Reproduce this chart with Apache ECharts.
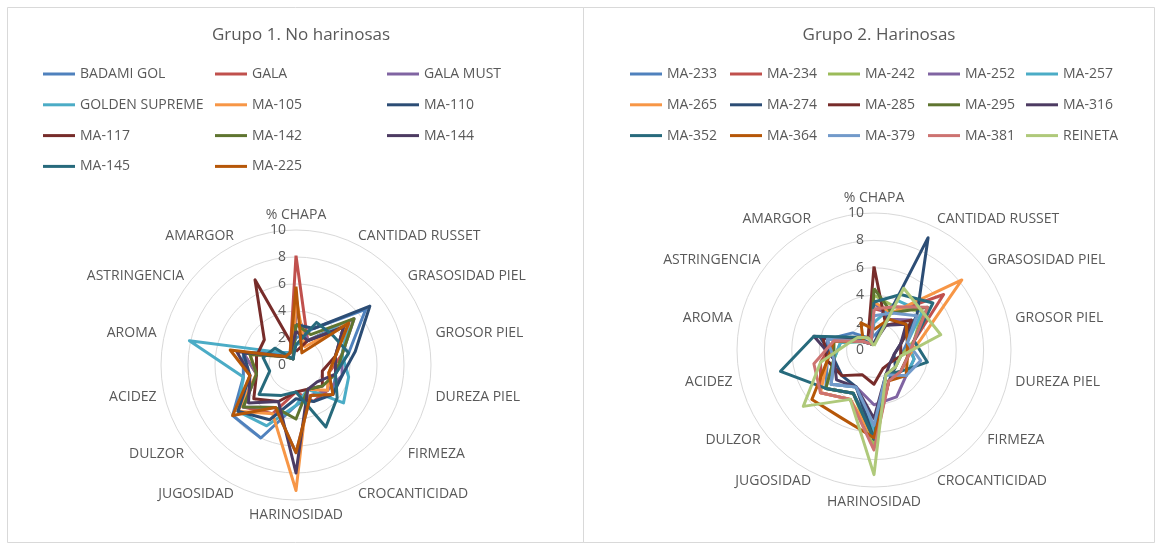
<!DOCTYPE html>
<html><head><meta charset="utf-8">
<script src="https://cdn.jsdelivr.net/npm/echarts@6/dist/echarts.min.js"></script>
<style>html,body{margin:0;padding:0;background:#fff}#c{width:1159px;height:546px}</style>
</head><body><div id="c"></div>
<script>
// ---- categories (clockwise from top) ----
const indicators = ['% CHAPA','CANTIDAD RUSSET','GRASOSIDAD PIEL','GROSOR PIEL','DUREZA PIEL','FIRMEZA','CROCANTICIDAD','HARINOSIDAD','JUGOSIDAD','DULZOR','ACIDEZ','AROMA','ASTRINGENCIA','AMARGOR'];
const axisMin = 0, axisMax = 10, axisSplits = 5;

// ---- Grupo 1. No harinosas ----
const g1Names = ['BADAMI GOL','GALA','GALA MUST','GOLDEN SUPREME','MA-105','MA-110','MA-117','MA-142','MA-144','MA-145','MA-225'];
const g1_BADAMI_GOL     = [2.0, 3.0, 6.6, 4.0, 3.0, 3.5, 2.5, 3.0, 6.0, 6.0, 4.0, 4.0, 1.5, 1.0];
const g1_GALA           = [8.1, 2.0, 5.0, 3.5, 2.5, 3.0, 3.0, 2.0, 4.0, 5.0, 3.0, 4.0, 1.0, 1.0];
const g1_GALA_MUST      = [4.0, 2.0, 5.5, 3.5, 3.5, 3.0, 2.5, 6.5, 3.5, 5.0, 3.0, 4.0, 1.0, 0.5];
const g1_GOLDEN_SUPREME = [1.5, 2.0, 5.0, 3.5, 4.0, 4.5, 2.0, 3.0, 5.0, 5.5, 4.0, 8.1, 1.5, 1.0];
const g1_MA105          = [5.0, 1.5, 5.0, 3.0, 2.5, 3.0, 2.0, 9.3, 4.0, 5.5, 3.0, 3.5, 1.0, 0.5];
const g1_MA110          = [3.0, 3.0, 7.0, 4.5, 3.5, 3.5, 3.0, 2.5, 4.5, 5.5, 3.5, 4.0, 1.0, 0.5];
const g1_MA117          = [1.0, 2.0, 4.5, 3.0, 2.0, 2.5, 2.0, 2.0, 3.0, 4.0, 3.0, 3.0, 3.0, 7.0];
const g1_MA142          = [3.0, 2.5, 5.5, 3.5, 3.0, 2.5, 2.0, 4.0, 3.5, 5.0, 3.0, 3.5, 1.0, 0.5];
const g1_MA144          = [2.5, 2.0, 4.5, 3.0, 3.0, 2.0, 2.0, 8.0, 3.0, 4.5, 3.5, 4.5, 1.0, 1.0];
const g1_MA145          = [1.5, 3.5, 3.5, 4.0, 3.0, 3.9, 5.1, 2.0, 2.5, 3.5, 2.0, 2.5, 2.0, 0.5];
const g1_MA225          = [5.8, 1.0, 5.0, 3.0, 2.5, 3.5, 2.5, 6.5, 3.5, 6.0, 3.5, 5.0, 1.0, 1.0];
const g1Values = [g1_BADAMI_GOL, g1_GALA, g1_GALA_MUST, g1_GOLDEN_SUPREME, g1_MA105, g1_MA110, g1_MA117, g1_MA142, g1_MA144, g1_MA145, g1_MA225];
const g1Colors = ['#4F81BD','#C0504D','#8064A2','#4BACC6','#F79646','#2C4D75','#772C2A','#5F7530','#4D3B62','#276A7C','#B65708'];

// ---- Grupo 2. Harinosas ----
const g2Names = ['MA-233','MA-234','MA-242','MA-252','MA-257','MA-265','MA-274','MA-285','MA-295','MA-316','MA-352','MA-364','MA-379','MA-381','REINETA'];
const g2_MA233   = [1.0, 2.5, 3.0, 2.5, 2.0, 2.0, 2.0, 6.0, 3.5, 4.5, 3.5, 3.5, 2.0, 1.0];
const g2_MA234   = [3.0, 3.0, 6.5, 3.0, 2.5, 2.5, 2.5, 7.0, 4.0, 5.0, 4.0, 3.0, 1.0, 0.5];
const g2_MA242   = [4.0, 3.5, 4.5, 3.0, 2.0, 2.0, 2.0, 7.0, 3.5, 4.5, 3.0, 2.5, 1.0, 0.5];
const g2_MA252   = [3.5, 2.5, 3.5, 2.5, 3.0, 3.0, 3.8, 4.0, 3.0, 4.0, 3.0, 3.5, 1.0, 0.5];
const g2_MA257   = [2.0, 4.0, 4.5, 2.5, 3.0, 3.0, 2.0, 6.0, 3.0, 4.0, 3.0, 2.5, 1.0, 0.5];
const g2_MA265   = [3.5, 3.0, 8.2, 3.5, 2.5, 2.5, 2.5, 6.5, 4.0, 5.0, 3.5, 3.0, 1.0, 0.5];
const g2_MA274   = [0.5, 9.1, 4.0, 2.0, 1.5, 2.0, 2.5, 6.5, 3.0, 3.0, 3.0, 4.0, 1.0, 0.5];
const g2_MA285   = [6.1, 2.0, 3.5, 2.0, 2.0, 1.5, 1.5, 2.5, 2.0, 3.0, 3.5, 3.8, 1.5, 1.0];
const g2_MA295   = [4.5, 3.0, 5.0, 3.0, 2.5, 2.5, 2.0, 6.5, 3.5, 4.5, 3.0, 3.0, 1.0, 0.5];
const g2_MA316   = [0.5, 2.0, 3.0, 2.0, 1.5, 1.5, 2.0, 5.0, 3.0, 3.5, 3.0, 4.5, 1.0, 0.5];
const g2_MA352   = [3.5, 4.5, 5.5, 3.0, 4.0, 2.5, 2.0, 6.5, 3.5, 4.5, 7.0, 4.5, 1.5, 0.5];
const g2_MA364   = [1.5, 2.5, 3.0, 2.5, 2.5, 3.0, 2.5, 6.4, 5.5, 5.8, 3.5, 3.0, 1.0, 2.2];
const g2_MA379   = [2.5, 3.0, 4.0, 2.5, 3.5, 3.0, 2.0, 5.5, 3.0, 4.0, 3.0, 3.5, 1.0, 0.5];
const g2_MA381   = [3.0, 3.5, 5.0, 3.0, 2.5, 2.5, 2.5, 7.3, 4.0, 5.0, 4.5, 3.0, 1.0, 0.5];
const g2_REINETA = [0.3, 5.0, 4.5, 5.0, 2.0, 2.0, 2.0, 9.1, 4.0, 6.6, 4.0, 2.0, 1.5, 1.0];
const g2Values = [g2_MA233, g2_MA234, g2_MA242, g2_MA252, g2_MA257, g2_MA265, g2_MA274, g2_MA285, g2_MA295, g2_MA316, g2_MA352, g2_MA364, g2_MA379, g2_MA381, g2_REINETA];
const g2Colors = ['#4F81BD','#C0504D','#9BBB59','#8064A2','#4BACC6','#F79646','#2C4D75','#772C2A','#5F7530','#4D3B62','#276A7C','#B65708','#729ACA','#CD7371','#AFC97A'];

// ---- build ----
const FONT = '"Open Sans", sans-serif';
const TXT = '#595959';
// ECharts radar runs counter-clockwise; reorder so categories run clockwise
const order = [0].concat(indicators.map((_, i) => i).slice(1).reverse());
function makeIndicators() {
  return order.map((k, j) => {
    const o = { name: indicators[k], min: axisMin, max: axisMax };
    if (j === 0) o.axisLabel = { show: true };
    return o;
  });
}
function makeRadar(center, radius) {
  return {
    center: center, radius: radius, startAngle: 90, shape: 'circle', splitNumber: axisSplits,
    indicator: makeIndicators(),
    nameGap: 8,
    axisName: { color: TXT, fontSize: 14, fontFamily: FONT },
    splitLine: { lineStyle: { color: '#D9D9D9', width: 1 } },
    splitArea: { show: false },
    axisLine: { show: false },
    axisTick: { show: false },
    axisLabel: { show: false, color: TXT, fontSize: 14, fontFamily: FONT, margin: 10 }
  };
}
function makeSeries(idx, names, values, colors) {
  return {
    type: 'radar', radarIndex: idx, symbol: 'none',
    data: names.map((n, i) => ({
      name: n,
      value: order.map(k => values[i][k]),
      lineStyle: { color: colors[i], width: 3 },
      itemStyle: { color: colors[i] }
    }))
  };
}
function makeLegends(names, nCols, xs, top) {
  const out = [];
  for (let c = 0; c < nCols; c++) {
    out.push({
      orient: 'vertical', left: xs[c], top: top, padding: 0,
      data: names.filter((_, i) => i % nCols === c),
      icon: 'rect', itemWidth: 32, itemHeight: 3, itemGap: 14.8,
      selectedMode: false,
      textStyle: { color: TXT, fontSize: 14, fontFamily: FONT, lineHeight: 16 }
    });
  }
  return out;
}

const chart = echarts.init(document.getElementById('c'), null, { renderer: 'canvas' });
chart.setOption({
  backgroundColor: '#fff',
  animation: false,
  graphic: [
    { type: 'rect', shape: { x: 7.5, y: 7.5, width: 576, height: 535 }, style: { fill: 'none', stroke: '#D9D9D9', lineWidth: 1 } },
    { type: 'rect', shape: { x: 583.5, y: 7.5, width: 571, height: 535 }, style: { fill: 'none', stroke: '#D9D9D9', lineWidth: 1 } }
  ],
  title: [
    { text: 'Grupo 1. No harinosas', left: 296, top: 22, textAlign: 'center', textStyle: { color: TXT, fontSize: 17, fontWeight: 'normal', fontFamily: FONT } },
    { text: 'Grupo 2. Harinosas', left: 874, top: 22, textAlign: 'center', textStyle: { color: TXT, fontSize: 17, fontWeight: 'normal', fontFamily: FONT } }
  ],
  legend: makeLegends(g1Names, 3, [43, 215, 387], 66).concat(makeLegends(g2Names, 5, [630, 730, 828, 928, 1026], 66)),
  radar: [makeRadar([296, 365], 135), makeRadar([874, 350], 137)],
  series: [makeSeries(0, g1Names, g1Values, g1Colors), makeSeries(1, g2Names, g2Values, g2Colors)]
});
</script>
</body></html>
